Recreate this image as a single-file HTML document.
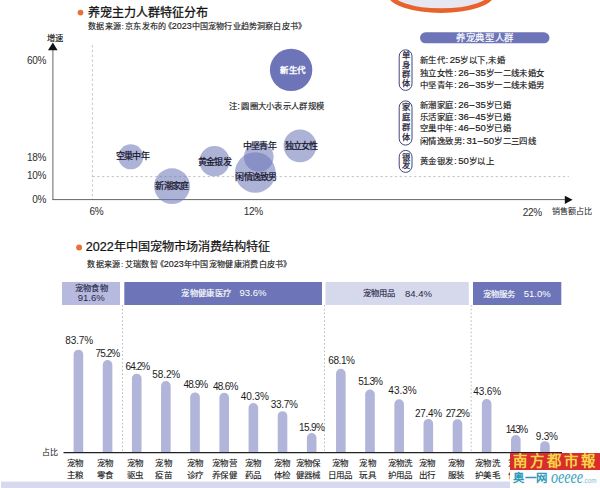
<!DOCTYPE html>
<html lang="zh-CN">
<head>
<meta charset="utf-8">
<title>养宠主力人群特征分布</title>
<style>
html,body{margin:0;padding:0;background:#fff;}
body{width:600px;height:488px;overflow:hidden;position:relative;font-family:"Liberation Sans", sans-serif;}
#c{position:absolute;left:0;top:0;width:600px;height:488px;overflow:hidden;background:#fff;}
#c svg{position:absolute;left:0;top:0;}
.t{position:absolute;white-space:nowrap;font-family:"Liberation Sans", sans-serif;}
</style>
</head>
<body>
<div id="c">
<svg width="600" height="488" viewBox="0 0 600 488">
<ellipse cx="441" cy="-6.4" rx="51.2" ry="17" fill="#e7e7f3" stroke="#e8632c" stroke-width="4.6"/>
<circle cx="80.5" cy="12.6" r="2.9" fill="#e8703a"/>
<line x1="92.4" y1="45" x2="92.4" y2="200" stroke="#adadad" stroke-width="0.7" stroke-dasharray="2.4 2.4"/>
<line x1="92.4" y1="176.6" x2="569" y2="176.6" stroke="#adadad" stroke-width="0.7" stroke-dasharray="2.4 2.4"/>
<line x1="52.9" y1="49" x2="52.9" y2="200" stroke="#555" stroke-width="0.9"/>
<line x1="52.6" y1="199.6" x2="566" y2="199.6" stroke="#555" stroke-width="0.9"/>
<polygon points="52.8,42.6 48,50.3 57.6,50.3" fill="#111"/>
<polygon points="572.6,199.8 564.8,195.7 564.8,203.9" fill="#111"/>
<circle cx="130.8" cy="156.8" r="12.5" fill="#6d75b8" fill-opacity="0.56"/>
<circle cx="172" cy="186.2" r="17.9" fill="#6d75b8" fill-opacity="0.56"/>
<circle cx="214.5" cy="161.2" r="15.1" fill="#6d75b8" fill-opacity="0.56"/>
<circle cx="255.3" cy="172.5" r="20.3" fill="#6d75b8" fill-opacity="0.56"/>
<circle cx="258.8" cy="157" r="14.8" fill="#6d75b8" fill-opacity="0.56"/>
<circle cx="300" cy="145.8" r="16.4" fill="#6d75b8" fill-opacity="0.56"/>
<circle cx="291.1" cy="69.9" r="21.2" fill="#6d75b8"/>
<rect x="420" y="32.3" width="129.5" height="11" rx="5.5" fill="#6d75b8"/>
<rect x="399.2" y="49.8" width="12.8" height="40.6" rx="6.4" fill="#fff" stroke="#2b3170" stroke-width="0.9"/>
<rect x="399.2" y="100.9" width="12.8" height="44.2" rx="6.4" fill="#fff" stroke="#2b3170" stroke-width="0.9"/>
<rect x="399.2" y="150.4" width="12.8" height="22.0" rx="6.4" fill="#fff" stroke="#2b3170" stroke-width="0.9"/>
<circle cx="79.1" cy="247.5" r="3" fill="#e8703a"/>
<rect x="62" y="282" width="58" height="23" fill="#b7bade"/>
<rect x="124.3" y="282" width="197.7" height="23" fill="#6d75b8"/>
<rect x="325.5" y="282" width="143.3" height="23" fill="#d6d8ec"/>
<rect x="473" y="282" width="88.3" height="23" fill="#6d75b8"/>
<line x1="122.5" y1="305" x2="122.5" y2="452" stroke="#b4b4ba" stroke-width="0.9" stroke-dasharray="1.6 2.2"/>
<line x1="324.5" y1="305" x2="324.5" y2="452" stroke="#b4b4ba" stroke-width="0.9" stroke-dasharray="1.6 2.2"/>
<line x1="471.2" y1="305" x2="471.2" y2="452" stroke="#b4b4ba" stroke-width="0.9" stroke-dasharray="1.6 2.2"/>
<path d="M73.60 452.6 V354.45 A4.8 4.8 0 0 1 83.20 354.45 V452.6 Z" fill="#b1b5da"/>
<path d="M102.76 452.6 V364.90 A4.8 4.8 0 0 1 112.36 364.90 V452.6 Z" fill="#b1b5da"/>
<path d="M131.92 452.6 V378.43 A4.8 4.8 0 0 1 141.52 378.43 V452.6 Z" fill="#b1b5da"/>
<path d="M161.08 452.6 V385.81 A4.8 4.8 0 0 1 170.68 385.81 V452.6 Z" fill="#b1b5da"/>
<path d="M190.24 452.6 V397.25 A4.8 4.8 0 0 1 199.84 397.25 V452.6 Z" fill="#b1b5da"/>
<path d="M219.40 452.6 V397.62 A4.8 4.8 0 0 1 229.00 397.62 V452.6 Z" fill="#b1b5da"/>
<path d="M248.56 452.6 V407.83 A4.8 4.8 0 0 1 258.16 407.83 V452.6 Z" fill="#b1b5da"/>
<path d="M277.72 452.6 V415.95 A4.8 4.8 0 0 1 287.32 415.95 V452.6 Z" fill="#b1b5da"/>
<path d="M306.88 452.6 V437.84 A4.8 4.8 0 0 1 316.48 437.84 V452.6 Z" fill="#b1b5da"/>
<path d="M336.04 452.6 V373.64 A4.8 4.8 0 0 1 345.64 373.64 V452.6 Z" fill="#b1b5da"/>
<path d="M365.20 452.6 V394.30 A4.8 4.8 0 0 1 374.80 394.30 V452.6 Z" fill="#b1b5da"/>
<path d="M394.36 452.6 V404.14 A4.8 4.8 0 0 1 403.96 404.14 V452.6 Z" fill="#b1b5da"/>
<path d="M423.52 452.6 V423.70 A4.8 4.8 0 0 1 433.12 423.70 V452.6 Z" fill="#b1b5da"/>
<path d="M452.68 452.6 V423.94 A4.8 4.8 0 0 1 462.28 423.94 V452.6 Z" fill="#b1b5da"/>
<path d="M481.84 452.6 V403.77 A4.8 4.8 0 0 1 491.44 403.77 V452.6 Z" fill="#b1b5da"/>
<path d="M511.00 452.6 V439.81 A4.8 4.8 0 0 1 520.60 439.81 V452.6 Z" fill="#b1b5da"/>
<path d="M540.16 452.6 V445.96 A4.8 4.8 0 0 1 549.76 445.96 V452.6 Z" fill="#b1b5da"/>
<line x1="63.5" y1="452.6" x2="562" y2="452.6" stroke="#222" stroke-width="1.1"/>
<rect x="1" y="481.6" width="599" height="6.4" fill="#d7daef"/>
</svg>
<div class="t" style="top:5.6px;height:15.6px;line-height:15.6px;font-size:12px;color:#111;left:87.5px;-webkit-text-stroke:0.28px #111;">养宠主力人群特征分布</div>
<div class="t" style="top:21.27px;height:10.47px;line-height:10.47px;font-size:8.05px;color:#1a1a1a;letter-spacing:0.17px;left:88.3px;-webkit-text-stroke:0.15px #1a1a1a;">数据来源<span style="margin:0 1.2px 0 0.6px">:</span>京东发布的<span style="margin-left:-2.5px">《</span><span style="font-size:9px;letter-spacing:0">2023</span>中国宠物行业趋势洞察白皮书》</div>
<div class="t" style="top:32.81px;height:10.79px;line-height:10.79px;font-size:8.3px;color:#111;left:-45px;width:200px;text-align:center;-webkit-text-stroke:0.15px #111;">增速</div>
<div class="t" style="top:53.7px;height:13.0px;line-height:13.0px;font-size:10px;color:#2e2e2e;letter-spacing:-0.25px;right:553.8px;text-align:right;">60%</div>
<div class="t" style="top:150.7px;height:13.0px;line-height:13.0px;font-size:10px;color:#2e2e2e;letter-spacing:-0.25px;right:553.8px;text-align:right;">18%</div>
<div class="t" style="top:168.5px;height:13.0px;line-height:13.0px;font-size:10px;color:#2e2e2e;letter-spacing:-0.25px;right:553.8px;text-align:right;">10%</div>
<div class="t" style="top:193.3px;height:13.0px;line-height:13.0px;font-size:10px;color:#2e2e2e;letter-spacing:-0.25px;right:553.8px;text-align:right;">0%</div>
<div class="t" style="top:205.2px;height:13.0px;line-height:13.0px;font-size:10px;color:#2e2e2e;letter-spacing:-0.25px;left:-3.5px;width:200px;text-align:center;">6%</div>
<div class="t" style="top:204.8px;height:13.0px;line-height:13.0px;font-size:10px;color:#2e2e2e;letter-spacing:-0.25px;left:153.4px;width:200px;text-align:center;">12%</div>
<div class="t" style="top:205.6px;height:13.0px;line-height:13.0px;font-size:10px;color:#2e2e2e;letter-spacing:-0.25px;left:432.4px;width:200px;text-align:center;">22%</div>
<div class="t" style="top:206.74px;height:10.53px;line-height:10.53px;font-size:8.1px;color:#222;left:551.5px;">销售额占比</div>
<div class="t" style="top:64.88px;height:11.04px;line-height:11.04px;font-size:8.49px;color:#fff;letter-spacing:0.45px;left:192.8px;width:200px;text-align:center;-webkit-text-stroke:0.4px #fff;">新生代</div>
<div class="t" style="top:151.15px;height:11.7px;line-height:11.7px;font-size:9px;color:#15152a;letter-spacing:-0.78px;left:32.5px;width:200px;text-align:center;-webkit-text-stroke:0.22px #15152a;">空巢中年</div>
<div class="t" style="top:181.15px;height:11.7px;line-height:11.7px;font-size:9px;color:#15152a;letter-spacing:-0.78px;left:71.8px;width:200px;text-align:center;-webkit-text-stroke:0.22px #15152a;">新潮家庭</div>
<div class="t" style="top:156.55px;height:11.7px;line-height:11.7px;font-size:9px;color:#15152a;letter-spacing:-0.78px;left:114.5px;width:200px;text-align:center;-webkit-text-stroke:0.22px #15152a;">黄金银发</div>
<div class="t" style="top:141.15px;height:11.7px;line-height:11.7px;font-size:9px;color:#15152a;letter-spacing:-0.78px;left:159.3px;width:200px;text-align:center;-webkit-text-stroke:0.22px #15152a;">中坚青年</div>
<div class="t" style="top:172.15px;height:11.7px;line-height:11.7px;font-size:9px;color:#15152a;letter-spacing:-0.78px;left:156px;width:200px;text-align:center;-webkit-text-stroke:0.22px #15152a;">闲情逸致男</div>
<div class="t" style="top:141.15px;height:11.7px;line-height:11.7px;font-size:9px;color:#15152a;letter-spacing:-0.78px;left:201px;width:200px;text-align:center;-webkit-text-stroke:0.22px #15152a;">独立女性</div>
<div class="t" style="top:101.41px;height:10.79px;line-height:10.79px;font-size:8.3px;color:#1a1a1a;letter-spacing:0.3px;left:228.6px;-webkit-text-stroke:0.15px #1a1a1a;">注<span style="margin:0 1.2px 0 0.6px">:</span>圆圈大小表示人群规模</div>
<div class="t" style="top:31.69px;height:12.22px;line-height:12.22px;font-size:9.4px;color:#fff;letter-spacing:0.6px;left:385px;width:200px;text-align:center;-webkit-text-stroke:0.2px #fff;">养宠典型人群</div>
<div class="t" style="top:55.44px;height:10.92px;line-height:10.92px;font-size:8.4px;color:#161616;letter-spacing:0.4px;left:420px;-webkit-text-stroke:0.15px #161616;">新生代<span style="margin:0 1.2px 0 0.6px">:</span><span style="font-size:9.6px;letter-spacing:0">25</span>岁以下,未婚</div>
<div class="t" style="top:67.64px;height:10.92px;line-height:10.92px;font-size:8.4px;color:#161616;letter-spacing:0.4px;left:420px;-webkit-text-stroke:0.15px #161616;">独立女性<span style="margin:0 1.2px 0 0.6px">:</span><span style="font-size:9.6px;letter-spacing:0">26<span style="margin:0 0.5px">–</span>35</span>岁一二线未婚女</div>
<div class="t" style="top:79.64px;height:10.92px;line-height:10.92px;font-size:8.4px;color:#161616;letter-spacing:0.4px;left:420px;-webkit-text-stroke:0.15px #161616;">中坚青年<span style="margin:0 1.2px 0 0.6px">:</span><span style="font-size:9.6px;letter-spacing:0">26<span style="margin:0 0.5px">–</span>35</span>岁一二线未婚男</div>
<div class="t" style="top:99.64px;height:10.92px;line-height:10.92px;font-size:8.4px;color:#161616;letter-spacing:0.4px;left:420px;-webkit-text-stroke:0.15px #161616;">新潮家庭<span style="margin:0 1.2px 0 0.6px">:</span><span style="font-size:9.6px;letter-spacing:0">26<span style="margin:0 0.5px">–</span>35</span>岁已婚</div>
<div class="t" style="top:111.64px;height:10.92px;line-height:10.92px;font-size:8.4px;color:#161616;letter-spacing:0.4px;left:420px;-webkit-text-stroke:0.15px #161616;">乐活家庭<span style="margin:0 1.2px 0 0.6px">:</span><span style="font-size:9.6px;letter-spacing:0">36<span style="margin:0 0.5px">–</span>45</span>岁已婚</div>
<div class="t" style="top:123.44px;height:10.92px;line-height:10.92px;font-size:8.4px;color:#161616;letter-spacing:0.4px;left:420px;-webkit-text-stroke:0.15px #161616;">空巢中年<span style="margin:0 1.2px 0 0.6px">:</span><span style="font-size:9.6px;letter-spacing:0">46<span style="margin:0 0.5px">–</span>50</span>岁已婚</div>
<div class="t" style="top:136.14px;height:10.92px;line-height:10.92px;font-size:8.4px;color:#161616;letter-spacing:0.4px;left:420px;-webkit-text-stroke:0.15px #161616;">闲情逸致男<span style="margin:0 1.2px 0 0.6px">:</span><span style="font-size:9.6px;letter-spacing:0">31<span style="margin:0 0.5px">–</span>50</span>岁二三四线</div>
<div class="t" style="top:156.34px;height:10.92px;line-height:10.92px;font-size:8.4px;color:#161616;letter-spacing:0.4px;left:420px;-webkit-text-stroke:0.15px #161616;">黄金银发<span style="margin:0 1.2px 0 0.6px">:</span><span style="font-size:9.6px;letter-spacing:0">50</span>岁以上</div>
<div class="t" style="left:395.6px;width:20px;text-align:center;top:51.4px;line-height:9.35px;font-size:8.3px;color:#1c1c3c;-webkit-text-stroke:0.25px #1c1c3c;white-space:normal">单<br>身<br>群<br>体</div>
<div class="t" style="left:395.6px;width:20px;text-align:center;top:103.4px;line-height:9.8px;font-size:8.3px;color:#1c1c3c;-webkit-text-stroke:0.25px #1c1c3c;white-space:normal">家<br>庭<br>群<br>体</div>
<div class="t" style="left:395.6px;width:20px;text-align:center;top:152.6px;line-height:8.8px;font-size:8.3px;color:#1c1c3c;-webkit-text-stroke:0.25px #1c1c3c;white-space:normal">银<br>发</div>
<div class="t" style="top:239.53px;height:15.73px;line-height:15.73px;font-size:12.1px;color:#111;left:85.7px;-webkit-text-stroke:0.22px #111;"><span style="font-size:12.6px;letter-spacing:0">2022</span>年中国宠物市场消费结构特征</div>
<div class="t" style="top:259.06px;height:10.47px;line-height:10.47px;font-size:8.05px;color:#1a1a1a;letter-spacing:0.3px;left:87.3px;-webkit-text-stroke:0.15px #1a1a1a;">数据来源<span style="margin:0 1.2px 0 0.6px">:</span>艾瑞数智<span style="margin-left:-2.5px">《</span><span style="font-size:9px;letter-spacing:0">2023</span>年中国宠物健康消费白皮书》</div>
<div class="t" style="top:282.61px;height:10.79px;line-height:10.79px;font-size:8.3px;color:#272a48;letter-spacing:0.3px;left:-8.6px;width:200px;text-align:center;-webkit-text-stroke:0.15px #272a48;">宠物食物</div>
<div class="t" style="top:292.32px;height:12.35px;line-height:12.35px;font-size:9.5px;color:#272a48;left:-8.8px;width:200px;text-align:center;">91.6%</div>
<div class="t" style="top:288.0px;height:10.79px;line-height:10.79px;font-size:8.3px;color:#fff;letter-spacing:0.35px;left:181.3px;-webkit-text-stroke:0.15px #fff;">宠物健康医疗</div>
<div class="t" style="top:287.43px;height:12.35px;line-height:12.35px;font-size:9.5px;color:#fff;left:239.5px;">93.6%</div>
<div class="t" style="top:288.41px;height:10.79px;line-height:10.79px;font-size:8.3px;color:#272a48;letter-spacing:0.3px;left:362.5px;-webkit-text-stroke:0.15px #272a48;">宠物用品</div>
<div class="t" style="top:287.72px;height:12.35px;line-height:12.35px;font-size:9.5px;color:#272a48;left:405px;">84.4%</div>
<div class="t" style="top:288.61px;height:10.79px;line-height:10.79px;font-size:8.3px;color:#fff;letter-spacing:0.3px;left:482.5px;-webkit-text-stroke:0.15px #fff;">宠物服务</div>
<div class="t" style="top:287.93px;height:12.35px;line-height:12.35px;font-size:9.5px;color:#fff;left:523.8px;">51.0%</div>
<div class="t" style="top:334.0px;height:13.0px;line-height:13.0px;font-size:10px;color:#1c1c1c;letter-spacing:-0.12px;left:65.25px;">83.7%</div>
<div class="t" style="top:458.08px;height:11.04px;line-height:11.04px;font-size:8.49px;color:#1a1a1a;letter-spacing:0.25px;left:-24.7px;width:200px;text-align:center;-webkit-text-stroke:0.12px #1a1a1a;">宠物</div>
<div class="t" style="top:469.58px;height:11.04px;line-height:11.04px;font-size:8.49px;color:#1a1a1a;letter-spacing:0.25px;left:-24.7px;width:200px;text-align:center;-webkit-text-stroke:0.12px #1a1a1a;">主粮</div>
<div class="t" style="top:347.2px;height:13.0px;line-height:13.0px;font-size:10px;color:#1c1c1c;letter-spacing:-0.93px;left:95.55px;">75.2%</div>
<div class="t" style="top:458.08px;height:11.04px;line-height:11.04px;font-size:8.49px;color:#1a1a1a;letter-spacing:0.25px;left:4.9px;width:200px;text-align:center;-webkit-text-stroke:0.12px #1a1a1a;">宠物</div>
<div class="t" style="top:469.58px;height:11.04px;line-height:11.04px;font-size:8.49px;color:#1a1a1a;letter-spacing:0.25px;left:4.9px;width:200px;text-align:center;-webkit-text-stroke:0.12px #1a1a1a;">零食</div>
<div class="t" style="top:360.2px;height:13.0px;line-height:13.0px;font-size:10px;color:#1c1c1c;letter-spacing:-0.92px;left:125.55px;">64.2%</div>
<div class="t" style="top:458.08px;height:11.04px;line-height:11.04px;font-size:8.49px;color:#1a1a1a;letter-spacing:0.25px;left:35.0px;width:200px;text-align:center;-webkit-text-stroke:0.12px #1a1a1a;">宠物</div>
<div class="t" style="top:469.58px;height:11.04px;line-height:11.04px;font-size:8.49px;color:#1a1a1a;letter-spacing:0.25px;left:35.0px;width:200px;text-align:center;-webkit-text-stroke:0.12px #1a1a1a;">驱虫</div>
<div class="t" style="top:368.3px;height:13.0px;line-height:13.0px;font-size:10px;color:#1c1c1c;letter-spacing:-0.12px;left:152.35px;">58.2%</div>
<div class="t" style="top:458.08px;height:11.04px;line-height:11.04px;font-size:8.49px;color:#1a1a1a;letter-spacing:0.25px;left:63.7px;width:200px;text-align:center;-webkit-text-stroke:0.12px #1a1a1a;">宠物</div>
<div class="t" style="top:469.58px;height:11.04px;line-height:11.04px;font-size:8.49px;color:#1a1a1a;letter-spacing:0.25px;left:63.7px;width:200px;text-align:center;-webkit-text-stroke:0.12px #1a1a1a;">疫苗</div>
<div class="t" style="top:378.3px;height:13.0px;line-height:13.0px;font-size:10px;color:#1c1c1c;letter-spacing:-0.92px;left:183.55px;">48.9%</div>
<div class="t" style="top:458.08px;height:11.04px;line-height:11.04px;font-size:8.49px;color:#1a1a1a;letter-spacing:0.25px;left:95.4px;width:200px;text-align:center;-webkit-text-stroke:0.12px #1a1a1a;">宠物</div>
<div class="t" style="top:469.58px;height:11.04px;line-height:11.04px;font-size:8.49px;color:#1a1a1a;letter-spacing:0.25px;left:95.4px;width:200px;text-align:center;-webkit-text-stroke:0.12px #1a1a1a;">诊疗</div>
<div class="t" style="top:379.5px;height:13.0px;line-height:13.0px;font-size:10px;color:#1c1c1c;letter-spacing:-0.73px;left:212.95px;">48.6%</div>
<div class="t" style="top:458.08px;height:11.04px;line-height:11.04px;font-size:8.49px;color:#1a1a1a;letter-spacing:0.25px;left:124.6px;width:200px;text-align:center;-webkit-text-stroke:0.12px #1a1a1a;">宠物营</div>
<div class="t" style="top:469.58px;height:11.04px;line-height:11.04px;font-size:8.49px;color:#1a1a1a;letter-spacing:0.25px;left:124.6px;width:200px;text-align:center;-webkit-text-stroke:0.12px #1a1a1a;">养保健</div>
<div class="t" style="top:389.5px;height:13.0px;line-height:13.0px;font-size:10px;color:#1c1c1c;letter-spacing:-0.1px;left:240.85px;">40.3%</div>
<div class="t" style="top:458.08px;height:11.04px;line-height:11.04px;font-size:8.49px;color:#1a1a1a;letter-spacing:0.25px;left:153.3px;width:200px;text-align:center;-webkit-text-stroke:0.12px #1a1a1a;">宠物</div>
<div class="t" style="top:469.58px;height:11.04px;line-height:11.04px;font-size:8.49px;color:#1a1a1a;letter-spacing:0.25px;left:153.3px;width:200px;text-align:center;-webkit-text-stroke:0.12px #1a1a1a;">药品</div>
<div class="t" style="top:398.0px;height:13.0px;line-height:13.0px;font-size:10px;color:#1c1c1c;letter-spacing:-0.33px;left:270.85px;">33.7%</div>
<div class="t" style="top:458.08px;height:11.04px;line-height:11.04px;font-size:8.49px;color:#1a1a1a;letter-spacing:0.25px;left:182.0px;width:200px;text-align:center;-webkit-text-stroke:0.12px #1a1a1a;">宠物</div>
<div class="t" style="top:469.58px;height:11.04px;line-height:11.04px;font-size:8.49px;color:#1a1a1a;letter-spacing:0.25px;left:182.0px;width:200px;text-align:center;-webkit-text-stroke:0.12px #1a1a1a;">体检</div>
<div class="t" style="top:420.5px;height:13.0px;line-height:13.0px;font-size:10px;color:#1c1c1c;letter-spacing:-0.63px;left:299.05px;">15.9%</div>
<div class="t" style="top:458.08px;height:11.04px;line-height:11.04px;font-size:8.49px;color:#1a1a1a;letter-spacing:0.25px;left:207.9px;width:200px;text-align:center;-webkit-text-stroke:0.12px #1a1a1a;">宠物保</div>
<div class="t" style="top:469.58px;height:11.04px;line-height:11.04px;font-size:8.49px;color:#1a1a1a;letter-spacing:0.25px;left:207.9px;width:200px;text-align:center;-webkit-text-stroke:0.12px #1a1a1a;">健器械</div>
<div class="t" style="top:353.5px;height:13.0px;line-height:13.0px;font-size:10px;color:#1c1c1c;letter-spacing:-0.45px;left:328.35px;">68.1%</div>
<div class="t" style="top:458.08px;height:11.04px;line-height:11.04px;font-size:8.49px;color:#1a1a1a;letter-spacing:0.25px;left:240.1px;width:200px;text-align:center;-webkit-text-stroke:0.12px #1a1a1a;">宠物</div>
<div class="t" style="top:469.58px;height:11.04px;line-height:11.04px;font-size:8.49px;color:#1a1a1a;letter-spacing:0.25px;left:240.1px;width:200px;text-align:center;-webkit-text-stroke:0.12px #1a1a1a;">日用品</div>
<div class="t" style="top:374.7px;height:13.0px;line-height:13.0px;font-size:10px;color:#1c1c1c;letter-spacing:-0.95px;left:358.35px;">51.3%</div>
<div class="t" style="top:458.08px;height:11.04px;line-height:11.04px;font-size:8.49px;color:#1a1a1a;letter-spacing:0.25px;left:267.6px;width:200px;text-align:center;-webkit-text-stroke:0.12px #1a1a1a;">宠物</div>
<div class="t" style="top:469.58px;height:11.04px;line-height:11.04px;font-size:8.49px;color:#1a1a1a;letter-spacing:0.25px;left:267.6px;width:200px;text-align:center;-webkit-text-stroke:0.12px #1a1a1a;">玩具</div>
<div class="t" style="top:384.3px;height:13.0px;line-height:13.0px;font-size:10px;color:#1c1c1c;letter-spacing:-0.03px;left:388.35px;">43.3%</div>
<div class="t" style="top:458.08px;height:11.04px;line-height:11.04px;font-size:8.49px;color:#1a1a1a;letter-spacing:0.25px;left:300.1px;width:200px;text-align:center;-webkit-text-stroke:0.12px #1a1a1a;">宠物洗</div>
<div class="t" style="top:469.58px;height:11.04px;line-height:11.04px;font-size:8.49px;color:#1a1a1a;letter-spacing:0.25px;left:300.1px;width:200px;text-align:center;-webkit-text-stroke:0.12px #1a1a1a;">护用品</div>
<div class="t" style="top:406.5px;height:13.0px;line-height:13.0px;font-size:10px;color:#1c1c1c;letter-spacing:-0.33px;left:415.05px;">27.4%</div>
<div class="t" style="top:458.08px;height:11.04px;line-height:11.04px;font-size:8.49px;color:#1a1a1a;letter-spacing:0.25px;left:326.8px;width:200px;text-align:center;-webkit-text-stroke:0.12px #1a1a1a;">宠物</div>
<div class="t" style="top:469.58px;height:11.04px;line-height:11.04px;font-size:8.49px;color:#1a1a1a;letter-spacing:0.25px;left:326.8px;width:200px;text-align:center;-webkit-text-stroke:0.12px #1a1a1a;">出行</div>
<div class="t" style="top:407.2px;height:13.0px;line-height:13.0px;font-size:10px;color:#1c1c1c;letter-spacing:-1.08px;left:445.85px;">27.2%</div>
<div class="t" style="top:458.08px;height:11.04px;line-height:11.04px;font-size:8.49px;color:#1a1a1a;letter-spacing:0.25px;left:355.8px;width:200px;text-align:center;-webkit-text-stroke:0.12px #1a1a1a;">宠物</div>
<div class="t" style="top:469.58px;height:11.04px;line-height:11.04px;font-size:8.49px;color:#1a1a1a;letter-spacing:0.25px;left:355.8px;width:200px;text-align:center;-webkit-text-stroke:0.12px #1a1a1a;">服装</div>
<div class="t" style="top:385.3px;height:13.0px;line-height:13.0px;font-size:10px;color:#1c1c1c;letter-spacing:-0.15px;left:473.35px;">43.6%</div>
<div class="t" style="top:458.08px;height:11.04px;line-height:11.04px;font-size:8.49px;color:#1a1a1a;letter-spacing:0.25px;left:387.6px;width:200px;text-align:center;-webkit-text-stroke:0.12px #1a1a1a;">宠物洗</div>
<div class="t" style="top:469.58px;height:11.04px;line-height:11.04px;font-size:8.49px;color:#1a1a1a;letter-spacing:0.25px;left:387.6px;width:200px;text-align:center;-webkit-text-stroke:0.12px #1a1a1a;">护美毛</div>
<div class="t" style="top:422.7px;height:13.0px;line-height:13.0px;font-size:10px;color:#1c1c1c;letter-spacing:-1.5px;left:505.85px;">14.3%</div>
<div class="t" style="top:458.08px;height:11.04px;line-height:11.04px;font-size:8.49px;color:#1a1a1a;letter-spacing:0.25px;left:416.6px;width:200px;text-align:center;-webkit-text-stroke:0.12px #1a1a1a;">宠物</div>
<div class="t" style="top:469.58px;height:11.04px;line-height:11.04px;font-size:8.49px;color:#1a1a1a;letter-spacing:0.25px;left:416.6px;width:200px;text-align:center;-webkit-text-stroke:0.12px #1a1a1a;">化毛</div>
<div class="t" style="top:429.5px;height:13.0px;line-height:13.0px;font-size:10px;color:#1c1c1c;letter-spacing:-0.25px;left:535.85px;">9.3%</div>
<div class="t" style="top:458.08px;height:11.04px;line-height:11.04px;font-size:8.49px;color:#1a1a1a;letter-spacing:0.25px;left:445.6px;width:200px;text-align:center;-webkit-text-stroke:0.12px #1a1a1a;">宠物</div>
<div class="t" style="top:469.58px;height:11.04px;line-height:11.04px;font-size:8.49px;color:#1a1a1a;letter-spacing:0.25px;left:445.6px;width:200px;text-align:center;-webkit-text-stroke:0.12px #1a1a1a;">寄养</div>
<div class="t" style="top:447.5px;height:10.4px;line-height:10.4px;font-size:8px;color:#111;left:42.3px;">占比</div>
<div style="position:absolute;left:510px;top:453.2px;width:90px;height:34.8px;background:#fdfdfe"></div>
<div style="position:absolute;left:510.3px;top:453.2px;width:89.7px;height:16.8px;background:#d92c2c"></div>
<div class="t" style="left:513.2px;top:453.2px;height:16.8px;line-height:16.8px;font-size:14.4px;letter-spacing:2.9px;color:#f6d648;font-weight:700;font-family:'Liberation Serif',serif">南方都市報</div>
<div class="t" style="left:513px;top:472.3px;height:13px;line-height:13px;font-size:11.4px;letter-spacing:0.6px;color:#2d9bb9;font-weight:700">奥一网</div>
<div class="t" style="left:550.6px;top:466.8px;height:20px;line-height:20px;font-size:19px;color:#38a3bd;font-style:italic;font-family:'Liberation Serif',serif;transform-origin:0 50%;transform:scaleX(0.74)">oeeee</div>
<div class="t" style="left:582.8px;top:477.4px;height:8px;line-height:8px;font-size:6.3px;color:#7cc3d3">.com</div>
</div>
</body>
</html>
